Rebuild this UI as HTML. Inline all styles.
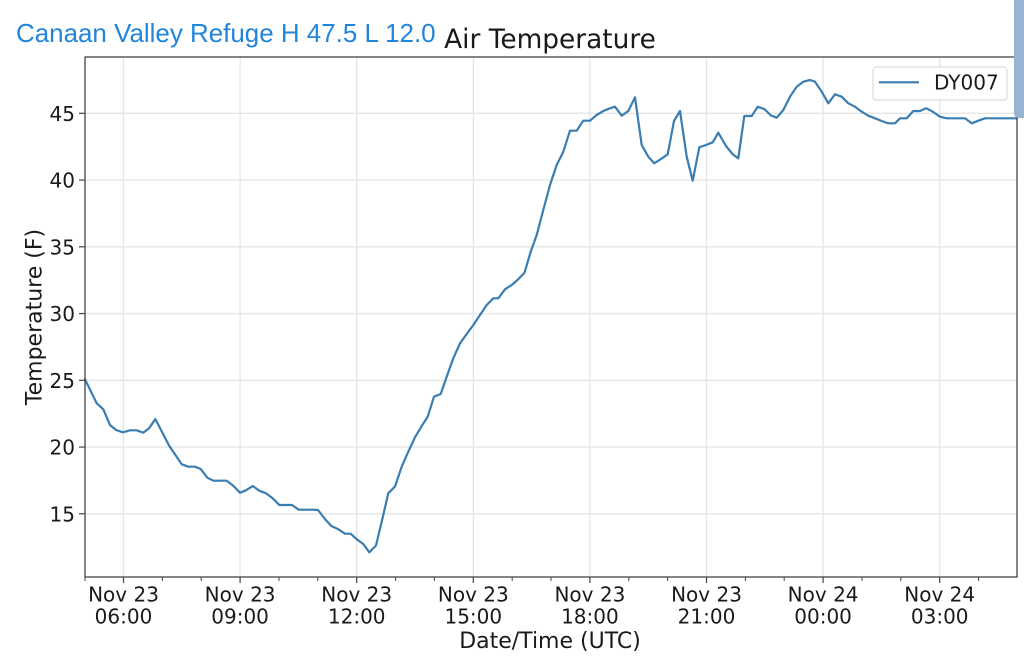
<!DOCTYPE html>
<html>
<head>
<meta charset="utf-8">
<style>
  html, body { margin: 0; padding: 0; background: #ffffff; }
  body { width: 1024px; height: 665px; overflow: hidden; position: relative; }
  svg { position: absolute; left: 0; top: 0; }
  .dv { font-family: "DejaVu Sans", "Liberation Sans", sans-serif; fill: #1a1a1a; }
</style>
</head>
<body>
<svg width="1024" height="665" viewBox="0 0 1024 665" xmlns="http://www.w3.org/2000/svg">
  <rect x="0" y="0" width="1024" height="665" fill="#ffffff"/>

  <!-- header texts -->
  <text x="16" y="42" font-family="Liberation Sans, sans-serif" font-size="25.95" fill="#2285dc">Canaan Valley Refuge H 47.5 L 12.0</text>
  <text class="dv" x="550" y="48" font-size="26.4" text-anchor="middle">Air Temperature</text>

  <!-- grid -->
  <g stroke="#e5e5e5" stroke-width="1.3">
    <line x1="123.5" y1="57" x2="123.5" y2="577"/>
    <line x1="240.1" y1="57" x2="240.1" y2="577"/>
    <line x1="356.7" y1="57" x2="356.7" y2="577"/>
    <line x1="473.3" y1="57" x2="473.3" y2="577"/>
    <line x1="589.9" y1="57" x2="589.9" y2="577"/>
    <line x1="706.5" y1="57" x2="706.5" y2="577"/>
    <line x1="823.1" y1="57" x2="823.1" y2="577"/>
    <line x1="939.7" y1="57" x2="939.7" y2="577"/>
    <line x1="85" y1="113.3" x2="1017" y2="113.3"/>
    <line x1="85" y1="180.05" x2="1017" y2="180.05"/>
    <line x1="85" y1="246.8" x2="1017" y2="246.8"/>
    <line x1="85" y1="313.55" x2="1017" y2="313.55"/>
    <line x1="85" y1="380.3" x2="1017" y2="380.3"/>
    <line x1="85" y1="447.05" x2="1017" y2="447.05"/>
    <line x1="85" y1="513.8" x2="1017" y2="513.8"/>
  </g>

  <!-- data line -->
  <polyline fill="none" stroke="#3a7db1" stroke-width="2.2" stroke-linejoin="round" stroke-linecap="round"
    points="85,379.3 96.7,403.3 103.3,409.3 110,425 116,430 122.7,432.3 130,430.3 136.7,430.3 143.3,432.7 149.3,428 155.3,419 162.7,433.3 169.3,446 176,455.7 181.7,464.3 188.3,466.7 195,466.7 200.7,469 207.3,477.7 213.3,480.7 220,480.7 226.7,480.7 233.3,485.7 240,492.7 246,490.3 252.7,486 259.3,490.7 266,493.3 272.7,498.3 279.3,505 286,505 292,505 298.7,509.7 305.3,509.7 312,509.7 318,510 325,519 331.3,526 338.3,529.3 345,533.7 350.7,533.7 356.7,539.3 363.3,544 369.3,552.3 376,545.5 381.7,521.7 388.3,493.3 395,486.5 401.7,466.7 408.3,451.7 415,437.3 421.7,426 427.7,416.7 434,396.7 440.7,394 447.3,375 453.3,358.3 460,343.3 466.7,334 473.3,325 480,315 486.7,305 493.3,298.3 498.3,298.3 505,289.3 511.7,285 517.5,280 524.5,272.7 530.7,251.7 536.7,235 543.3,210 550,185 556.7,165 563.3,151.7 570,130.7 576.7,130.7 583.3,120.7 590,120.7 596.7,115 603.3,111 608,109 615,106.7 621.7,115.7 628.3,111 635,97.3 641.7,145 648.3,156.7 654.3,163.3 661,159 667.7,154.3 674,121 680,111 686.7,156.7 692.7,180.7 699.3,147.3 706,145 712.7,142.3 718.3,132.7 726,146 732.7,154.3 738.3,158.3 744.3,116 751.7,116 757.7,106.7 764.3,109 771,115.5 776.7,117.7 783.3,110 790,96.7 796.7,86.7 803.3,81.7 810,80 815,81.7 821.7,91.7 828.3,103.3 835,94.3 841.7,96.7 848.3,103.3 855,106.7 861.7,111.7 868.3,115.7 875,118.3 881.7,121 888.3,123.3 895,123.3 900,118.3 906.7,118.3 913.3,111 920,111 926,108.3 931.7,111 940,116.7 946.7,118.3 953.3,118.3 960,118.3 965,118.3 971.7,123.3 978.3,120.7 985,118.3 993.3,118.3 1017,118.3"/>

  <!-- axes frame -->
  <rect x="85" y="57" width="932" height="520" fill="none" stroke="#444" stroke-width="1.3"/>

  <!-- y ticks -->
  <g stroke="#444" stroke-width="1.2">
    <line x1="79" y1="113.3" x2="85" y2="113.3"/>
    <line x1="79" y1="180.05" x2="85" y2="180.05"/>
    <line x1="79" y1="246.8" x2="85" y2="246.8"/>
    <line x1="79" y1="313.55" x2="85" y2="313.55"/>
    <line x1="79" y1="380.3" x2="85" y2="380.3"/>
    <line x1="79" y1="447.05" x2="85" y2="447.05"/>
    <line x1="79" y1="513.8" x2="85" y2="513.8"/>
  </g>
  <g class="dv" font-size="20" text-anchor="end">
    <text x="75" y="120.8">45</text>
    <text x="75" y="187.5">40</text>
    <text x="75" y="254.3">35</text>
    <text x="75" y="321">30</text>
    <text x="75" y="387.8">25</text>
    <text x="75" y="454.5">20</text>
    <text x="75" y="521.3">15</text>
  </g>

  <!-- x ticks major -->
  <g stroke="#444" stroke-width="1.2">
    <line x1="123.5" y1="577" x2="123.5" y2="583"/>
    <line x1="240.1" y1="577" x2="240.1" y2="583"/>
    <line x1="356.7" y1="577" x2="356.7" y2="583"/>
    <line x1="473.3" y1="577" x2="473.3" y2="583"/>
    <line x1="589.9" y1="577" x2="589.9" y2="583"/>
    <line x1="706.5" y1="577" x2="706.5" y2="583"/>
    <line x1="823.1" y1="577" x2="823.1" y2="583"/>
    <line x1="939.7" y1="577" x2="939.7" y2="583"/>
  </g>
  <!-- x ticks minor -->
  <g stroke="#444" stroke-width="1">
    <line x1="85" y1="577" x2="85" y2="581"/>
    <line x1="162.4" y1="577" x2="162.4" y2="581"/>
    <line x1="201.2" y1="577" x2="201.2" y2="581"/>
    <line x1="279" y1="577" x2="279" y2="581"/>
    <line x1="317.8" y1="577" x2="317.8" y2="581"/>
    <line x1="395.6" y1="577" x2="395.6" y2="581"/>
    <line x1="434.4" y1="577" x2="434.4" y2="581"/>
    <line x1="512.2" y1="577" x2="512.2" y2="581"/>
    <line x1="551" y1="577" x2="551" y2="581"/>
    <line x1="628.8" y1="577" x2="628.8" y2="581"/>
    <line x1="667.6" y1="577" x2="667.6" y2="581"/>
    <line x1="745.4" y1="577" x2="745.4" y2="581"/>
    <line x1="784.2" y1="577" x2="784.2" y2="581"/>
    <line x1="862" y1="577" x2="862" y2="581"/>
    <line x1="900.8" y1="577" x2="900.8" y2="581"/>
    <line x1="978.6" y1="577" x2="978.6" y2="581"/>
  </g>
  <g class="dv" font-size="20" text-anchor="middle">
    <text x="123.5" y="601.7">Nov 23</text><text x="123.5" y="623.5">06:00</text>
    <text x="240.1" y="601.7">Nov 23</text><text x="240.1" y="623.5">09:00</text>
    <text x="356.7" y="601.7">Nov 23</text><text x="356.7" y="623.5">12:00</text>
    <text x="473.3" y="601.7">Nov 23</text><text x="473.3" y="623.5">15:00</text>
    <text x="589.9" y="601.7">Nov 23</text><text x="589.9" y="623.5">18:00</text>
    <text x="706.5" y="601.7">Nov 23</text><text x="706.5" y="623.5">21:00</text>
    <text x="823.1" y="601.7">Nov 24</text><text x="823.1" y="623.5">00:00</text>
    <text x="939.7" y="601.7">Nov 24</text><text x="939.7" y="623.5">03:00</text>
  </g>

  <!-- axis labels -->
  <text class="dv" x="550" y="648" font-size="22" text-anchor="middle">Date/Time (UTC)</text>
  <text class="dv" font-size="22" text-anchor="middle" transform="translate(41.5,317) rotate(-90)">Temperature (F)</text>

  <!-- legend -->
  <rect x="873" y="67" width="134" height="33" rx="3" ry="3" fill="#ffffff" fill-opacity="0.85" stroke="#d6d6d6" stroke-width="1"/>
  <line x1="879" y1="82.3" x2="919" y2="82.3" stroke="#3a7db1" stroke-width="2.2"/>
  <text class="dv" x="934" y="89.5" font-size="20">DY007</text>

  <!-- right edge overlay bar -->
  <path d="M1014,0 L1024,0 L1024,118 L1019,118 Q1014,118 1014,113 Z" fill="#98b4d0"/>
</svg>
</body>
</html>
